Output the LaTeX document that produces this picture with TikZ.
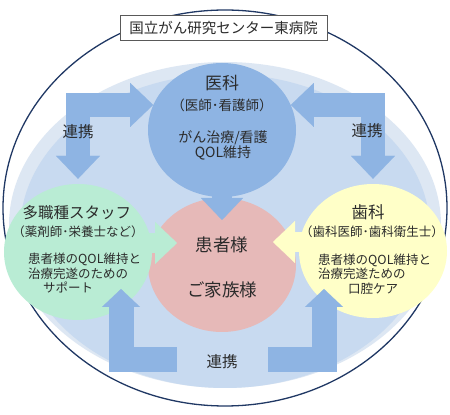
\documentclass[tikz,border=0pt]{standalone}
\usepackage{fontspec}
\setmainfont{Noto Sans CJK JP}
\usetikzlibrary{shapes.geometric,arrows.meta}
\definecolor{ring-navy}{HTML}{203864}
\definecolor{halo-light}{HTML}{DDE7F3}
\definecolor{halo-blue}{HTML}{C8DAF0}
\definecolor{medic-blue}{HTML}{8EB4E3}
\definecolor{link-blue}{HTML}{8EB4E3}
\definecolor{patient-pink}{HTML}{E6B9B8}
\definecolor{staff-green}{HTML}{B9ECD4}
\definecolor{dental-yellow}{HTML}{FFFFC8}
\definecolor{text-grey}{HTML}{2B2B2B}
\tikzset{
    role-blob/.style = {ellipse, inner sep=0pt, minimum width=148pt, minimum height=134pt},
    hospital-title/.style = {draw=black!65, fill=white, line width=0.7pt, minimum width=207pt, minimum height=25pt, inner sep=0pt, font=\fontsize{14.5}{16}\selectfont},
    role-head/.style = {inner sep=0pt, font=\fontsize{16.5}{18}\selectfont},
    role-sub/.style = {inner sep=0pt, font=\fontsize{12.5}{15}\selectfont},
    role-body/.style = {inner sep=0pt, align=left, font=\fontsize{12.5}{14.5}\selectfont},
    link-label/.style = {inner sep=0pt, font=\fontsize{15.5}{17}\selectfont},
    link-arrow/.style = {draw=link-blue, line width=24pt, {Triangle[width=44pt,length=23pt,line width=0.1pt]}-{Triangle[width=44pt,length=23pt,line width=0.1pt]}},
    link-return/.style = {draw=link-blue, line width=25pt, -{Triangle[width=38pt,length=18pt,line width=0.1pt]}},
    pointer/.style = {line width=20pt, -{Triangle[width=42pt,length=22pt,line width=0.1pt]}},
}

\begin{document}
\begin{tikzpicture}[x=1pt, y=1pt, text=text-grey]
\useasboundingbox (0,0) rectangle (450,415);
\draw[ring-navy, line width=1.3pt, fill=white] (225,207) ellipse [x radius=222, y radius=198];
\fill[halo-light] (225,190) ellipse [x radius=216, y radius=163];
\fill[halo-blue] (225,184) ellipse [x radius=205, y radius=157];
\node[hospital-title] (hospital) at (223.5,387.5) {国立がん研究センター東病院};

\node[role-blob, fill=medic-blue] (medic) at (222,285) {};
\node[role-blob, fill=patient-pink] (patient) at (222,150) {};
\node[role-blob, fill=staff-green, minimum height=136pt] (staff) at (78,163) {};
\node[role-blob, fill=dental-yellow] (dental) at (373,164) {};

% short pointers into the patient circle
\coordinate (medic-tip) at (222,195);
\coordinate (staff-tip) at (177,172);
\coordinate (dental-tip) at (273,173);
\draw[pointer, medic-blue] (medic.center) -- (medic-tip);
\draw[pointer, staff-green] (staff.center |- staff-tip) -- (staff-tip);
\draw[pointer, dental-yellow] (dental.center |- dental-tip) -- (dental-tip);

% cooperation arrows
\coordinate (return-left) at (177,55);
\coordinate (return-right) at (268,55);
\coordinate (staff-return) at (121,126);
\coordinate (dental-return) at (324,126);
\draw[link-arrow] ([yshift=5pt]staff.north) |- (medic.160);
\draw[link-arrow] ([yshift=5pt]dental.north) |- (medic.20);
\draw[link-return] (return-left) -| (staff-return);
\draw[link-return] (return-right) -| (dental-return);
\node[link-label] (link-left) at (78,283) {連携};
\node[link-label] (link-right) at (367,284) {連携};
\node[link-label] (link-bottom) at (222,53) {連携};

\node[role-head, font=\fontsize{17}{19}\selectfont] (medic-head) at (222,332) {医科};
\node[role-sub, font=\fontsize{13.5}{15}\selectfont] (medic-sub) at (222,310) {（医師･看護師）};
\node[role-body, align=center, font=\fontsize{14}{15.5}\selectfont] (medic-body) at (223,269.5) {がん治療/看護\\QOL維持};

\node[role-head, font=\fontsize{17.5}{19}\selectfont] (patient-head) at (222,170) {患者様};
\node[role-head, font=\fontsize{17.5}{19}\selectfont] (family-head) at (222,125) {ご家族様};

\node[role-head, font=\fontsize{15.5}{17}\selectfont] (staff-head) at (77,202) {多職種スタッフ};
\node[role-sub] (staff-sub) at (78,183) {（薬剤師･栄養士など）};
\node[role-body, anchor=west] (staff-body) at (28,141.5) {患者様のQOL維持と\\治療完遂のための\\\hspace*{15pt}サポート};

\node[role-head] (dental-head) at (368,203) {歯科};
\node[role-sub] (dental-sub) at (372,183) {（歯科医師･歯科衛生士）};
\node[role-body, anchor=west] (dental-body) at (318,141) {患者様のQOL維持と\\治療完遂ための\\\hspace*{30pt}口腔ケア};
\end{tikzpicture}
\end{document}
